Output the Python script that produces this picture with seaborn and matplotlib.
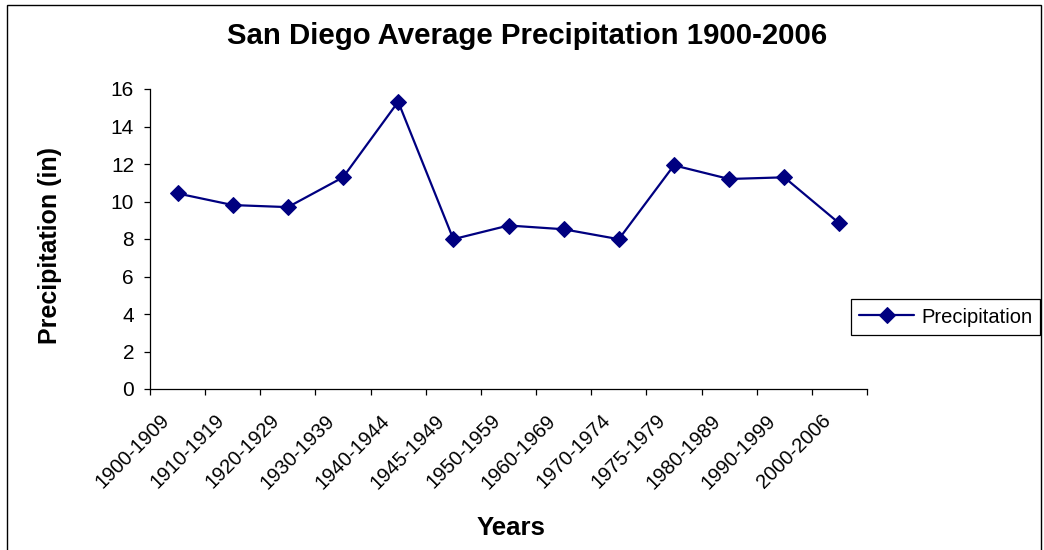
import matplotlib
matplotlib.use("Agg")
import matplotlib.pyplot as plt
from matplotlib.patches import Rectangle
from matplotlib.transforms import ScaledTranslation
import seaborn as sns
import pandas as pd

periods = ["1900-1909", "1910-1919", "1920-1929", "1930-1939", "1940-1944",
           "1945-1949", "1950-1959", "1960-1969", "1970-1974", "1975-1979",
           "1980-1989", "1990-1999", "2000-2006"]
precip = [10.43, 9.81, 9.70, 11.29, 15.32, 7.99, 8.72, 8.52, 7.99, 11.93,
          11.20, 11.29, 8.83]
y_ticks = [0, 2, 4, 6, 8, 10, 12, 14, 16]

sns.set_theme(style="white")
plt.rcParams["font.family"] = ["Liberation Sans", "DejaVu Sans"]
plt.rcParams["text.color"] = "black"
plt.rcParams["xtick.color"] = "black"
plt.rcParams["ytick.color"] = "black"

W, H = 1044, 550
fig = plt.figure(figsize=(W / 100, H / 100), dpi=100)
ax = fig.add_axes([150 / W, 1 - 389 / H, (867 - 150) / W, (389 - 89) / H])

df = pd.DataFrame({"Years": periods, "Precipitation": precip})
navy = "#000080"
sns.lineplot(data=df, x="Years", y="Precipitation", sort=False, ax=ax,
             color=navy, linewidth=1.6, marker="D", markersize=8.5,
             markeredgecolor=navy, markerfacecolor=navy, label="Precipitation")

ax.set_xlim(-0.5, len(periods) - 0.5)
ax.set_ylim(0, 16)
ax.set_yticks(y_ticks)
ax.set_yticklabels([str(v) for v in y_ticks], fontsize=15)

# category labels at centres, tick marks at category boundaries
ax.set_xticks(range(len(periods)))
ax.set_xticklabels(periods, rotation=45, ha="right", rotation_mode="anchor",
                   fontsize=14.5)
ax.tick_params(axis="x", which="major", length=0, pad=10)
shift = ScaledTranslation(-18 / 100, -8 / 100, fig.dpi_scale_trans)
for lbl in ax.get_xticklabels():
    lbl.set_transform(lbl.get_transform() + shift)
ax.set_xticks([i - 0.5 for i in range(len(periods) + 1)], minor=True)
ax.tick_params(axis="x", which="minor", length=4.5, width=0.9,
               direction="out", bottom=True)
ax.tick_params(axis="y", which="major", length=4.5, width=0.9,
               direction="out", left=True, pad=7)

for side in ["top", "right"]:
    ax.spines[side].set_visible(False)
for side in ["left", "bottom"]:
    ax.spines[side].set_color("black")
    ax.spines[side].set_linewidth(0.9)
ax.grid(False)
ax.set_xlabel("")
ax.set_ylabel("")

fig.text(527 / W, 1 - 36 / H, "San Diego Average Precipitation 1900-2006",
         ha="center", va="center", fontsize=21.2, fontweight="bold")
fig.text(50 / W, 1 - 245 / H, "Precipitation (in)", rotation=90,
         ha="center", va="center", fontsize=18, fontweight="bold")
fig.text(511 / W, 1 - 528 / H, "Years", ha="center", va="center",
         fontsize=18.5, fontweight="bold")

handles, labels = ax.get_legend_handles_labels()
ax.legend(handles, labels, loc="upper left",
          bbox_to_anchor=(851 / W, 1 - 299 / H), bbox_transform=fig.transFigure,
          borderaxespad=0, fontsize=14.5, frameon=True, fancybox=False,
          edgecolor="black", framealpha=1, handlelength=2.74,
          handleheight=1.0, handletextpad=0.35, borderpad=0.4)
ax.get_legend().get_frame().set_linewidth(0.9)

fig.patches.append(Rectangle((7 / W, -0.02), (1041 - 7) / W, 1.02 - 5 / H,
                             transform=fig.transFigure, fill=False,
                             edgecolor="black", linewidth=1))

fig.savefig("out.png", dpi=100, facecolor="white")
